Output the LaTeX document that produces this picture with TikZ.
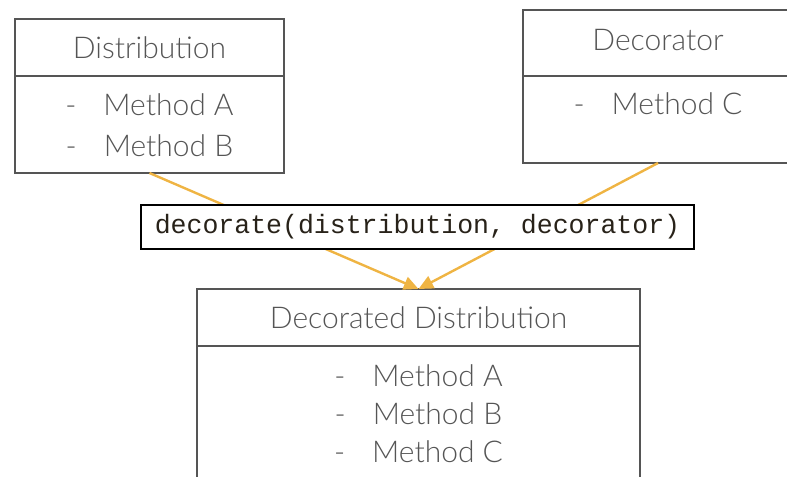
\documentclass[tikz,border=0pt]{standalone}
\usepackage{fontspec}
\setmainfont{Lato}[UprightFont={* Light}]
\setmonofont{Liberation Mono}
\usetikzlibrary{arrows.meta, positioning, calc}
\definecolor{boxgray}{RGB}{85,85,85}
\definecolor{linkorange}{RGB}{239,180,67}
\definecolor{codeink}{RGB}{40,34,25}

\begin{document}
\begin{tikzpicture}[x=0.75pt, y=-0.75pt,
    box/.style={draw=boxgray, line width=2pt, outer sep=0pt, inner sep=0pt,
        text=boxgray, font=\fontsize{22.5}{27}\selectfont},
    item/.style={text=boxgray, inner sep=0pt, font=\fontsize{22.5}{27}\selectfont},
    link/.style={draw=linkorange, line width=1.8pt, -{Triangle[length=11pt, width=10pt]}},
    callbox/.style={draw=black, line width=1.5pt, fill=white, inner sep=0pt,
        minimum width=414.75pt, minimum height=33pt, text=codeink,
        font=\ttfamily\fontsize{19.9}{24}\selectfont}]
    \useasboundingbox (0,0) rectangle (787,476);
    \clip (0,0) rectangle (787,476);
    % Caixas de cima
    \node[box, minimum width=201.75pt, minimum height=42.75pt] (dist-head) at (149.5,47.5) {Distribution};
    \node[box, minimum width=201.75pt, minimum height=72.75pt, below=0pt of dist-head] (dist-body) {};
    \node[box, minimum width=202.5pt, minimum height=49.5pt, text depth=4.5pt] (decor-head) at (658,43) {Decorator};
    \node[box, minimum width=202.5pt, minimum height=65.25pt, below=0pt of decor-head] (decor-body) {};
    % Caixa de baixo
    \node[box, minimum width=332.25pt, minimum height=42.75pt] (ddist-head) at (418.5,317.5) {Decorated Distribution};
    \node[box, minimum width=332.25pt, minimum height=120pt, below=0pt of ddist-head] (ddist-body) {};
    % Metodos
    \foreach \m [count=\i from 0] in {A,B}
        \node[item] (dist-m\m) at ($(dist-body.north)+(0,29+41*\i)$) {-\hspace{0.9em}Method \m};
    \node[item] (decor-mC) at ($(decor-body.north)+(0,28)$) {-\hspace{0.9em}Method C};
    \foreach \m [count=\i from 0] in {A,B,C}
        \node[item] (ddist-m\m) at ($(ddist-body.north)+(0,30+38*\i)$) {-\hspace{0.9em}Method \m};
    % Ligacoes
    \draw[link] (dist-body.south) -- (ddist-head.north);
    \draw[link] (decor-body.south) -- (ddist-head.north);
    % Chamada
    \node[callbox] (call) at (417.5,227) {decorate(distribution, decorator)};
\end{tikzpicture}
\end{document}
